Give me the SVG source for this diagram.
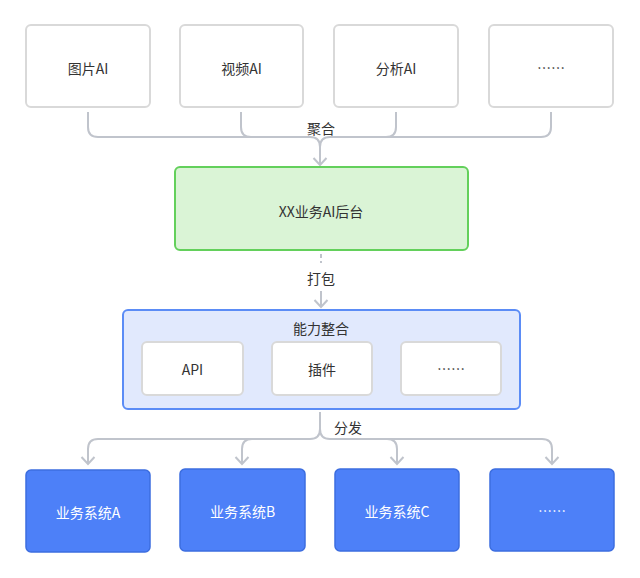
<svg xmlns="http://www.w3.org/2000/svg" width="640" height="578" viewBox="0 0 640 578">
<defs>
<style>
text{font-family:"Noto Sans CJK SC","Noto Sans",sans-serif;font-size:14px;text-anchor:middle;dominant-baseline:central;fill:#333}
.src{fill:#fff;stroke:#d9d9d9;stroke-width:2}
.inner{fill:#fff;stroke:#d9d9d9;stroke-width:2}
.tgt{fill:#4d80f8;stroke:#3c6ddf;stroke-width:1.5}
.tgt-t{fill:#fff}
.con{fill:none;stroke:#c0c4cc;stroke-width:2}
</style>
<marker id="arr" viewBox="0 0 12 16" refX="10" refY="8" markerWidth="12" markerHeight="16" markerUnits="userSpaceOnUse" orient="auto">
<path d="M3,1.5 L10,8 L3,14.5" fill="none" stroke="#c0c4cc" stroke-width="2"/>
</marker>
</defs>
<g id="connectors">
<path class="con" d="M88,112 V127 Q88,137 98,137 H310 Q320,137 320,147 V165" marker-end="url(#arr)"/>
<path class="con" d="M241,112 V127 Q241,137 251,137 H310"/>
<path class="con" d="M396,112 V127 Q396,137 386,137 H330 Q320,137 320,147"/>
<path class="con" d="M551,112 V127 Q551,137 541,137 H330"/>
<text x="321" y="128">聚合</text>
<path class="con" d="M321,254 V263" stroke-dasharray="4 3"/>
<text x="321" y="278">打包</text>
<path class="con" d="M321,291 V307" marker-end="url(#arr)"/>
<path class="con" d="M320,412 V429 Q320,439 310,439 H98 Q88,439 88,449 V464" marker-end="url(#arr)"/>
<path class="con" d="M252,439 Q242,439 242,449 V464" marker-end="url(#arr)"/>
<path class="con" d="M320,429 Q320,439 330,439 H542 Q552,439 552,449 V464" marker-end="url(#arr)"/>
<path class="con" d="M387,439 Q397,439 397,449 V464" marker-end="url(#arr)"/>
<text x="348" y="427">分发</text>
</g>
<g id="img-ai"><rect class="src" x="26" y="25" width="124" height="82" rx="5"/><text x="88" y="68">图片AI</text></g>
<g id="video-ai"><rect class="src" x="180" y="25" width="123" height="82" rx="5"/><text x="241.5" y="68">视频AI</text></g>
<g id="analysis-ai"><rect class="src" x="334" y="25" width="124" height="82" rx="5"/><text x="396" y="68">分析AI</text></g>
<g id="more-ai"><rect class="src" x="489" y="25" width="124" height="82" rx="5"/><text x="551" y="67">……</text></g>
<g id="backend"><rect x="175" y="167" width="293" height="83" rx="5" fill="#daf4d6" stroke="#63d05b" stroke-width="2"/><text x="321" y="211">XX业务AI后台</text></g>
<g id="capability">
<rect x="123" y="310" width="397" height="99" rx="5" fill="#e1e9fd" stroke="#5b8cf6" stroke-width="2"/>
<text x="321" y="328">能力整合</text>
<g id="api"><rect class="inner" x="142" y="342" width="101" height="53" rx="5"/><text x="192.5" y="369">API</text></g>
<g id="plugin"><rect class="inner" x="272" y="342" width="100" height="53" rx="5"/><text x="322" y="369">插件</text></g>
<g id="more-cap"><rect class="inner" x="401" y="342" width="100" height="53" rx="5"/><text x="451" y="368">……</text></g>
</g>
<g id="sys-a"><rect class="tgt" x="26" y="470" width="124" height="82" rx="5"/><text class="tgt-t" x="88" y="512">业务系统A</text></g>
<g id="sys-b"><rect class="tgt" x="180" y="469" width="125" height="82" rx="5"/><text class="tgt-t" x="242.5" y="511">业务系统B</text></g>
<g id="sys-c"><rect class="tgt" x="335" y="469" width="124" height="82" rx="5"/><text class="tgt-t" x="397" y="511">业务系统C</text></g>
<g id="sys-more"><rect class="tgt" x="490" y="469" width="124" height="82" rx="5"/><text class="tgt-t" x="552" y="510">……</text></g>
</svg>
